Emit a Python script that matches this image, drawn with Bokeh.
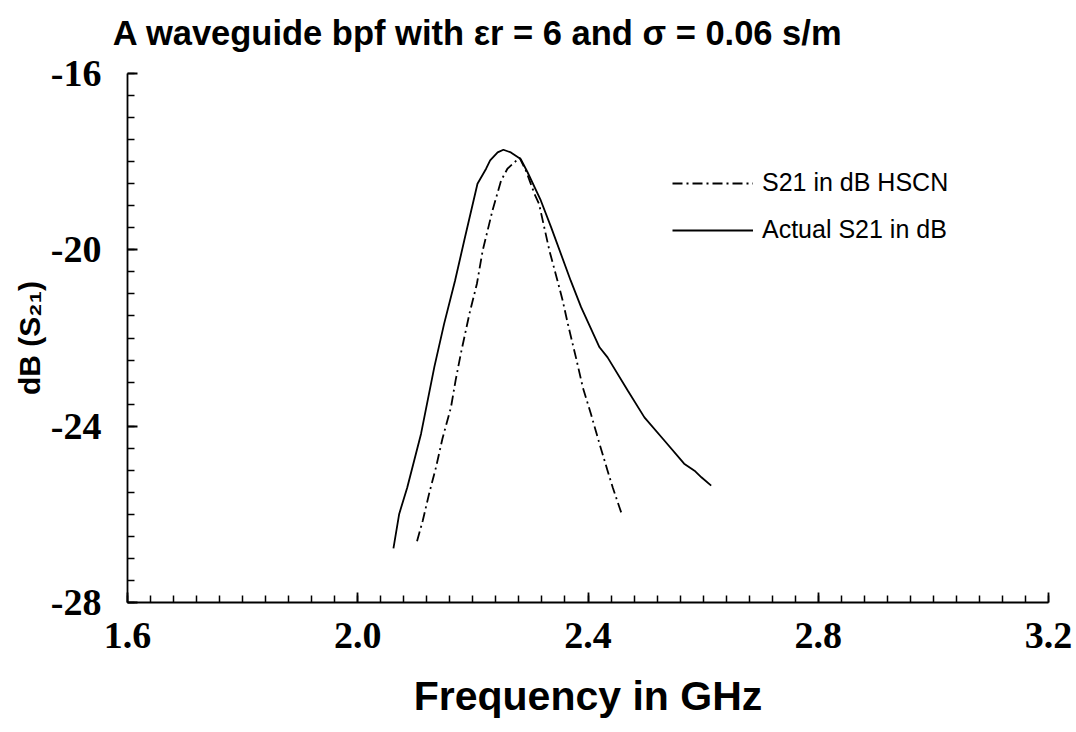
import numpy as np
from bokeh.plotting import figure
from bokeh.models import Range1d, FixedTicker, NumeralTickFormatter, Legend, LegendItem, LinearAxis
from bokeh.embed import file_html
from bokeh.resources import INLINE

# ---- data ----
freq_actual = [2.062, 2.072, 2.086, 2.110, 2.133, 2.150, 2.169, 2.185, 2.208, 2.223,
               2.230, 2.243, 2.253, 2.266, 2.283, 2.295, 2.318, 2.336, 2.370, 2.388,
               2.420, 2.434, 2.469, 2.498, 2.533, 2.567, 2.585, 2.597, 2.614]
s21_actual = [-26.77, -25.99, -25.39, -24.17, -22.66, -21.68, -20.70, -19.79, -18.50, -18.16,
              -17.97, -17.79, -17.73, -17.79, -17.94, -18.24, -18.88, -19.49, -20.70, -21.30,
              -22.21, -22.44, -23.19, -23.80, -24.33, -24.85, -25.01, -25.16, -25.35]

freq_hscn = [2.103, 2.113, 2.124, 2.136, 2.147, 2.162, 2.170, 2.179, 2.194, 2.207,
             2.217, 2.234, 2.249, 2.260, 2.281, 2.292, 2.307, 2.315, 2.333, 2.347,
             2.356, 2.365, 2.379, 2.391, 2.405, 2.420, 2.434, 2.443, 2.459]
s21_hscn = [-26.61, -26.14, -25.53, -24.93, -24.29, -23.57, -22.96, -22.36, -21.45, -20.77,
            -20.02, -19.11, -18.43, -18.16, -17.91, -18.20, -18.73, -18.96, -20.02, -20.70,
            -21.15, -21.68, -22.44, -23.12, -23.72, -24.40, -25.01, -25.39, -26.01]

x_ticks = [1.6, 2.0, 2.4, 2.8, 3.2]
y_ticks = [-28, -24, -20, -16]
x_minor_step = 0.04
y_minor_step = 0.5

title_text = "A waveguide bpf with \u03b5r = 6 and  \u03c3 = 0.06 s/m"
x_label = "Frequency in GHz"
y_label = "dB (S\u2082\u2081)"
legend_hscn = "S21 in dB HSCN"
legend_actual = "Actual S21 in dB"

# ---- figure ----
p = figure(width=1076, height=732, output_backend="svg", toolbar_location=None,
           x_range=Range1d(x_ticks[0], x_ticks[-1]), y_range=Range1d(y_ticks[0], y_ticks[-1]),
           min_border_left=127, min_border_right=28, min_border_top=73, min_border_bottom=130)
p.outline_line_color = None
p.grid.visible = False
p.background_fill_color = "white"
p.border_fill_color = "white"

xa = p.below[0]
ya = p.left[0]

# title drawn as the label of an invisible axis above the frame;
# trailing no-break spaces shift the centred text to the left like the reference
title_axis = LinearAxis(axis_label=title_text + "\u00a0" * 22,
                        ticker=FixedTicker(ticks=[], minor_ticks=[]),
                        axis_line_color=None,
                        major_tick_line_color=None, minor_tick_line_color=None,
                        major_tick_in=0, major_tick_out=0, minor_tick_in=0, minor_tick_out=0,
                        major_label_standoff=0,
                        axis_label_standoff=22, axis_label_text_font="Liberation Sans",
                        axis_label_text_font_style="bold", axis_label_text_font_size="34.5px",
                        axis_label_text_color="black")
p.add_layout(title_axis, "above")

x_minor = list(np.round(np.arange(x_ticks[0], x_ticks[-1] + 1e-9, x_minor_step), 4))
y_minor = list(np.round(np.arange(y_ticks[0], y_ticks[-1] + 1e-9, y_minor_step), 4))
xa.ticker = FixedTicker(ticks=x_ticks, minor_ticks=x_minor)
ya.ticker = FixedTicker(ticks=y_ticks, minor_ticks=y_minor)
xa.formatter = NumeralTickFormatter(format="0.0")
ya.formatter = NumeralTickFormatter(format="0")

for ax in (xa, ya):
    ax.axis_line_color = "black"
    ax.axis_line_width = 1.8
    ax.major_tick_line_color = "black"
    ax.major_tick_line_width = 1.8
    ax.minor_tick_line_color = "black"
    ax.minor_tick_line_width = 1.5
    ax.major_tick_in = 10
    ax.major_tick_out = 0
    ax.minor_tick_in = 7
    ax.minor_tick_out = 0
    ax.major_label_text_font = "Liberation Serif"
    ax.major_label_text_font_style = "bold"
    ax.major_label_text_font_size = "38px"
    ax.major_label_text_color = "black"
    ax.axis_label_text_font = "Liberation Sans"
    ax.axis_label_text_font_style = "bold"
    ax.axis_label_text_color = "black"

xa.axis_label_text_font_size = "41px"
ya.axis_label_text_font_size = "30px"
xa.major_label_standoff = 20
ya.major_label_standoff = 26
xa.axis_label = x_label
ya.axis_label = y_label
xa.axis_label_standoff = 22
ya.axis_label_standoff = 2

r_hscn = p.line(freq_hscn, s21_hscn, line_color="black", line_width=1.8, line_dash="10 4 2 4")
r_act = p.line(freq_actual, s21_actual, line_color="black", line_width=1.8)

legend = Legend(items=[LegendItem(label=legend_hscn, renderers=[r_hscn]),
                       LegendItem(label=legend_actual, renderers=[r_act])],
                location=(545, 358), padding=0, margin=0, spacing=18,
                glyph_width=81, glyph_height=22, label_height=22, label_standoff=9,
                border_line_color=None, background_fill_alpha=0,
                label_text_font="Liberation Sans", label_text_font_size="25px",
                label_text_color="black")
p.add_layout(legend)

open("out.html", "w").write(file_html(p, INLINE))
